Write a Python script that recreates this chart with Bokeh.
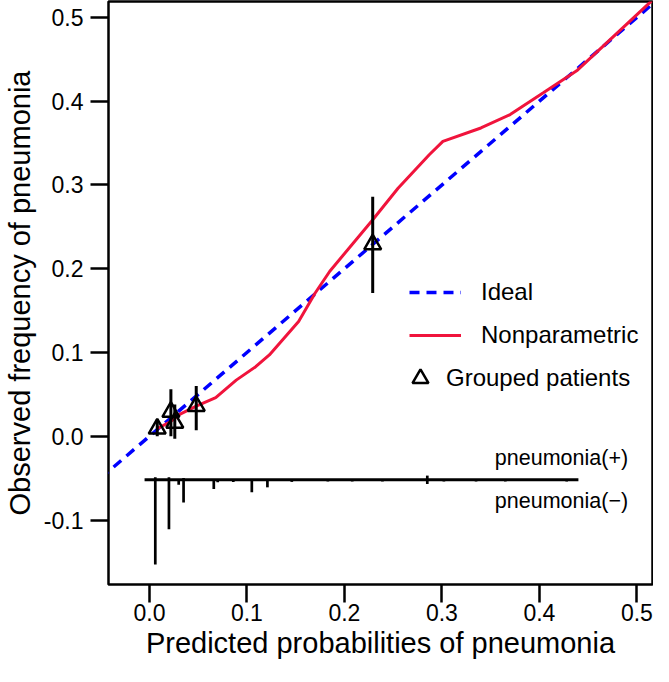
from bokeh.plotting import figure
from bokeh.models import Range1d, FixedTicker, PrintfTickFormatter, Legend, LegendItem
from bokeh.core.properties import value
from bokeh.embed import file_html
from bokeh.resources import INLINE

# ---------------- data ----------------
ideal_x = [-0.05, 0.55]
ideal_y = [-0.05, 0.55]

np_x = [0.008, 0.021, 0.031, 0.048, 0.068, 0.089, 0.109, 0.123, 0.153, 0.170,
        0.185, 0.228, 0.255, 0.287, 0.301, 0.340, 0.370, 0.404, 0.439, 0.519]
np_y = [0.009, 0.017, 0.026, 0.036, 0.046, 0.067, 0.083, 0.097, 0.137, 0.171,
        0.197, 0.257, 0.296, 0.336, 0.352, 0.368, 0.384, 0.410, 0.437, 0.524]

grp_x = [0.008, 0.022, 0.026, 0.048, 0.229]
grp_y = [0.009, 0.029, 0.016, 0.036, 0.229]
grp_lo = [0.000, 0.000, -0.003, 0.007, 0.171]
grp_hi = [0.020, 0.056, 0.038, 0.060, 0.286]

neg_x = [0.006, 0.020, 0.030, 0.035, 0.066, 0.070, 0.086, 0.095, 0.105, 0.121,
         0.146, 0.183, 0.208, 0.239, 0.285, 0.302, 0.335, 0.365, 0.428]
neg_h = [0.101, 0.059, 0.006, 0.027, 0.011, 0.003, 0.0025, 0.0015, 0.015, 0.009,
         0.0025, 0.002, 0.002, 0.002, 0.005, 0.002, 0.002, 0.002, 0.002]
pos_x = [0.006, 0.020, 0.035, 0.285]
pos_h = [0.003, 0.003, 0.002, 0.005]
rug_span = [-0.005, 0.440]

x_ticks = [0.0, 0.1, 0.2, 0.3, 0.4, 0.5]
y_ticks = [-0.1, 0.0, 0.1, 0.2, 0.3, 0.4, 0.5]
rug_labels = ["pneumonia(+)", "pneumonia(\u2212)"]

# ---------------- figure ----------------
FONT = "Liberation Sans"
BLUE = "#0000FF"
RED = "#F0143C"

p = figure(width=653, height=666,
           x_range=Range1d(-0.042, 0.516), y_range=Range1d(-0.177, 0.519),
           output_backend="svg", toolbar_location=None,
           min_border_left=104, min_border_right=1, min_border_top=1, min_border_bottom=82,
           x_axis_label="Predicted probabilities of pneumonia",
           y_axis_label="Observed frequency of pneumonia")
p.grid.visible = False
p.outline_line_color = "black"
p.outline_line_width = 2.5
p.background_fill_color = "white"
p.border_fill_color = "white"

for ax in (p.xaxis[0], p.yaxis[0]):
    ax.axis_line_color = None
    ax.major_tick_out = 18
    ax.major_tick_in = 0
    ax.major_tick_line_width = 2.5
    ax.major_tick_line_color = "black"
    ax.minor_tick_line_color = None
    ax.major_label_text_font = FONT
    ax.major_label_text_font_size = "23px"
    ax.major_label_text_color = "black"
    ax.axis_label_text_font = FONT
    ax.axis_label_text_font_size = "29px"
    ax.axis_label_text_font_style = "normal"
    ax.axis_label_text_color = "black"
    ax.formatter = PrintfTickFormatter(format="%.1f")

p.xaxis[0].ticker = FixedTicker(ticks=x_ticks)
p.yaxis[0].ticker = FixedTicker(ticks=y_ticks)
p.xaxis[0].major_label_standoff = 1
p.xaxis[0].axis_label_standoff = 3
p.yaxis[0].major_label_standoff = 7
p.yaxis[0].axis_label_standoff = 5

# ideal line
ideal = p.line(ideal_x, ideal_y, line_color=BLUE, line_width=3.5, line_dash="10 7")
# nonparametric curve
nonpar = p.line(np_x, np_y, line_color=RED, line_width=3)
# grouped patients with error bars
p.segment(x0=grp_x, y0=grp_lo, x1=grp_x, y1=grp_hi, line_color="black", line_width=3)
grp = p.scatter(grp_x, grp_y, marker="triangle", size=17, fill_color=None,
                line_color="black", line_width=2.5)

# risk distribution (spike histogram)
base_y = -0.052
p.segment(x0=[rug_span[0]], y0=[base_y], x1=[rug_span[1]], y1=[base_y],
          line_color="black", line_width=3)
p.segment(x0=neg_x, y0=[base_y] * len(neg_x), x1=neg_x,
          y1=[base_y - h for h in neg_h], line_color="black", line_width=2.7)
p.segment(x0=pos_x, y0=[base_y] * len(pos_x), x1=pos_x,
          y1=[base_y + h for h in pos_h], line_color="black", line_width=2.7)
p.text(x=[0.491, 0.491], y=[-0.026, -0.077], text=rug_labels,
       text_font=value(FONT), text_font_size=value("21.5px"),
       text_align="right", text_baseline="middle", text_color="black")


def style_legend(lg):
    lg.border_line_color = None
    lg.background_fill_alpha = 0
    lg.label_text_font = FONT
    lg.label_text_font_size = "24px"
    lg.label_text_color = "black"
    lg.label_height = 28
    lg.spacing = 15
    lg.padding = 0
    lg.margin = 0


legend_lines = Legend(items=[LegendItem(label="Ideal", renderers=[ideal]),
                             LegendItem(label="Nonparametric", renderers=[nonpar])],
                      location=(301, 235))
style_legend(legend_lines)
legend_lines.glyph_height = 28
legend_lines.glyph_width = 52
legend_lines.label_standoff = 20
p.add_layout(legend_lines)

legend_pts = Legend(items=[LegendItem(label="Grouped patients", renderers=[grp])],
                    location=(292, 186))
style_legend(legend_pts)
legend_pts.glyph_height = 40
legend_pts.glyph_width = 40
legend_pts.label_standoff = 6
p.add_layout(legend_pts)

open("out.html", "w").write(file_html(p, INLINE))
